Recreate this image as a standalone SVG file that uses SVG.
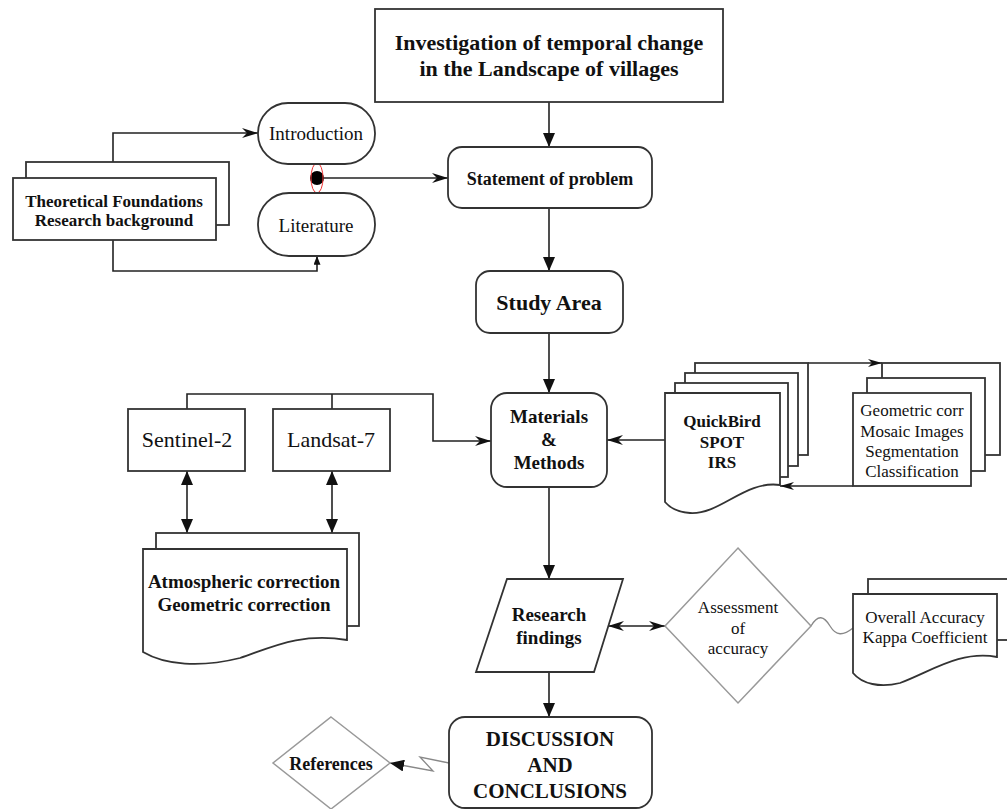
<svg xmlns="http://www.w3.org/2000/svg" width="1007" height="809" viewBox="0 0 1007 809">
<style>
.n{fill:#fff;stroke:#333;stroke-width:1.8}
.g{fill:#fff;stroke:#999;stroke-width:1.5}
.c{fill:none;stroke:#222;stroke-width:1.6}
.cg{fill:none;stroke:#888;stroke-width:1.3}
text{font-family:"Liberation Serif","Times New Roman",serif;fill:#111;text-anchor:middle}
.b{font-weight:bold}
</style>
<defs>
<marker id="tri" viewBox="0 0 14 12" refX="14" refY="6" markerWidth="14" markerHeight="12" markerUnits="userSpaceOnUse" orient="auto-start-reverse"><path d="M0,0 L14,6 L0,12 z" fill="#111"/></marker>
<marker id="trs" viewBox="0 0 10 8" refX="10" refY="4" markerWidth="9" markerHeight="7" markerUnits="userSpaceOnUse" orient="auto"><path d="M0,0 L10,4 L0,8 z" fill="#111"/></marker>
<marker id="notch" viewBox="0 0 16 10" refX="16" refY="5" markerWidth="16" markerHeight="10" markerUnits="userSpaceOnUse" orient="auto-start-reverse"><path d="M0,0 L16,5 L0,10 L5,5 z" fill="#111"/></marker>
<marker id="nsm" viewBox="0 0 14 8" refX="14" refY="4" markerWidth="14" markerHeight="8" markerUnits="userSpaceOnUse" orient="auto"><path d="M0,0 L14,4 L0,8 L4,4 z" fill="#111"/></marker>
</defs>

<g id="connectors">
<line class="c" x1="549" y1="102" x2="549" y2="147" marker-end="url(#tri)"/>
<line class="c" x1="549" y1="208" x2="549" y2="271" marker-end="url(#tri)"/>
<line class="c" x1="549" y1="333" x2="549" y2="393" marker-end="url(#tri)"/>
<line class="c" x1="549" y1="487" x2="549" y2="579" marker-end="url(#tri)"/>
<line class="c" x1="549" y1="672" x2="549" y2="717" marker-end="url(#tri)"/>
<polyline class="c" points="113,162 113,133 258,133" marker-end="url(#notch)"/>
<polyline class="c" points="113,240 113,271 317,271 317,256" marker-end="url(#trs)"/>
<line class="c" x1="317" y1="178" x2="448" y2="178" marker-end="url(#notch)"/>
<polyline class="c" points="187,409 187,394 433,394 433,441 491,441" marker-end="url(#notch)"/>
<line class="c" x1="332" y1="409" x2="332" y2="394"/>
<line class="c" x1="187" y1="471" x2="187" y2="533" marker-start="url(#tri)" marker-end="url(#tri)"/>
<line class="c" x1="332" y1="471" x2="332" y2="533" marker-start="url(#tri)" marker-end="url(#tri)"/>
<line class="c" x1="665" y1="440" x2="607" y2="440" marker-end="url(#notch)"/>
<line class="c" x1="808" y1="363" x2="882" y2="363" marker-end="url(#nsm)"/>
<line class="c" x1="853" y1="486" x2="780" y2="486" marker-end="url(#nsm)"/>
<line class="c" x1="608" y1="626" x2="665" y2="626" marker-start="url(#notch)" marker-end="url(#notch)"/>
<path class="cg" d="M811,626 C818,614 824,616 830,626 S843,636 853,628"/>
<polyline class="cg" points="449,763 420,757 433,771 390,763" marker-end="url(#tri)"/>
<circle cx="317" cy="178" r="7" fill="#000"/>
<ellipse cx="317" cy="178" rx="6" ry="15" fill="none" stroke="#e33" stroke-width="1"/>
</g>

<g id="title">
<rect class="n" x="375" y="9" width="348" height="93"/>
<text class="b" x="549" y="50" font-size="22">Investigation of temporal change</text>
<text class="b" x="549" y="76" font-size="22">in the Landscape of villages</text>
</g>

<g id="statement">
<rect class="n" x="448" y="147" width="204" height="61" rx="14"/>
<text class="b" x="550" y="185" font-size="18">Statement of problem</text>
</g>

<g id="introduction">
<rect class="n" x="258" y="103" width="117" height="61" rx="30"/>
<text x="316" y="140" font-size="19">Introduction</text>
</g>

<g id="literature">
<rect class="n" x="258" y="193" width="117" height="63" rx="31"/>
<text x="316" y="232" font-size="19">Literature</text>
</g>

<g id="theoretical">
<rect class="n" x="26" y="162" width="203" height="63"/>
<rect class="n" x="13" y="178" width="203" height="62"/>
<text class="b" x="114" y="207" font-size="17">Theoretical Foundations</text>
<text class="b" x="114" y="226" font-size="17">Research background</text>
</g>

<g id="study">
<rect class="n" x="476" y="271" width="147" height="62" rx="14"/>
<text class="b" x="549" y="310" font-size="22">Study Area</text>
</g>

<g id="materials">
<rect class="n" x="491" y="393" width="116" height="94" rx="16"/>
<text class="b" x="549" y="423" font-size="19">Materials</text>
<text class="b" x="549" y="446" font-size="19">&amp;</text>
<text class="b" x="549" y="469" font-size="19">Methods</text>
</g>

<g id="sentinel">
<rect class="n" x="128" y="409" width="117" height="62"/>
<text x="187" y="447" font-size="22">Sentinel-2</text>
</g>

<g id="landsat">
<rect class="n" x="273" y="409" width="117" height="62"/>
<text x="331" y="447" font-size="22">Landsat-7</text>
</g>

<g id="atmospheric">
<rect class="n" x="156" y="533" width="203" height="93"/>
<path class="n" d="M143,549 H347 V640 C300,632 270,648 240,658 C200,668 165,665 143,652 Z"/>
<text class="b" x="244" y="588" font-size="19">Atmospheric correction</text>
<text class="b" x="244" y="611" font-size="19">Geometric correction</text>
</g>

<g id="quickbird">
<rect class="n" x="695" y="363" width="113" height="92"/>
<rect class="n" x="685" y="373" width="113" height="93"/>
<rect class="n" x="675" y="383" width="113" height="94"/>
<path class="n" d="M665,393 H780 V485 C745,480 720,515 690,513 C678,512 670,508 665,502 Z"/>
<text class="b" x="722" y="427" font-size="17">QuickBird</text>
<text class="b" x="722" y="448" font-size="17">SPOT</text>
<text class="b" x="722" y="468" font-size="17">IRS</text>
</g>

<g id="geometric">
<rect class="n" x="882" y="363" width="118" height="92"/>
<rect class="n" x="867" y="378" width="118" height="93"/>
<rect class="n" x="853" y="393" width="118" height="93"/>
<text x="912" y="416" font-size="17">Geometric corr</text>
<text x="912" y="437" font-size="17">Mosaic Images</text>
<text x="912" y="457" font-size="17">Segmentation</text>
<text x="912" y="477" font-size="17">Classification</text>
</g>

<g id="research">
<polygon class="n" points="507,579 623,579 594,672 476,672"/>
<text class="b" x="549" y="621" font-size="19">Research</text>
<text class="b" x="549" y="644" font-size="19">findings</text>
</g>

<g id="assessment">
<polygon class="g" points="738,548 811,626 738,703 665,626"/>
<text x="738" y="613" font-size="17">Assessment</text>
<text x="738" y="634" font-size="17">of</text>
<text x="738" y="654" font-size="17">accuracy</text>
</g>

<g id="overall">
<rect class="n" x="868" y="579" width="150" height="61"/>
<path class="n" d="M853,594 H997 V657 C960,650 930,672 900,683 C880,688 862,684 853,673 Z"/>
<text x="925" y="623" font-size="17">Overall Accuracy</text>
<text x="925" y="643" font-size="17">Kappa Coefficient</text>
</g>

<g id="discussion">
<rect class="n" x="449" y="717" width="203" height="91" rx="16"/>
<text class="b" x="550" y="746" font-size="21">DISCUSSION</text>
<text class="b" x="550" y="772" font-size="21">AND</text>
<text class="b" x="550" y="798" font-size="21">CONCLUSIONS</text>
</g>

<g id="references">
<polygon class="g" points="331,717 390,763 331,809 273,763"/>
<text class="b" x="331" y="770" font-size="18">References</text>
</g>
</svg>
